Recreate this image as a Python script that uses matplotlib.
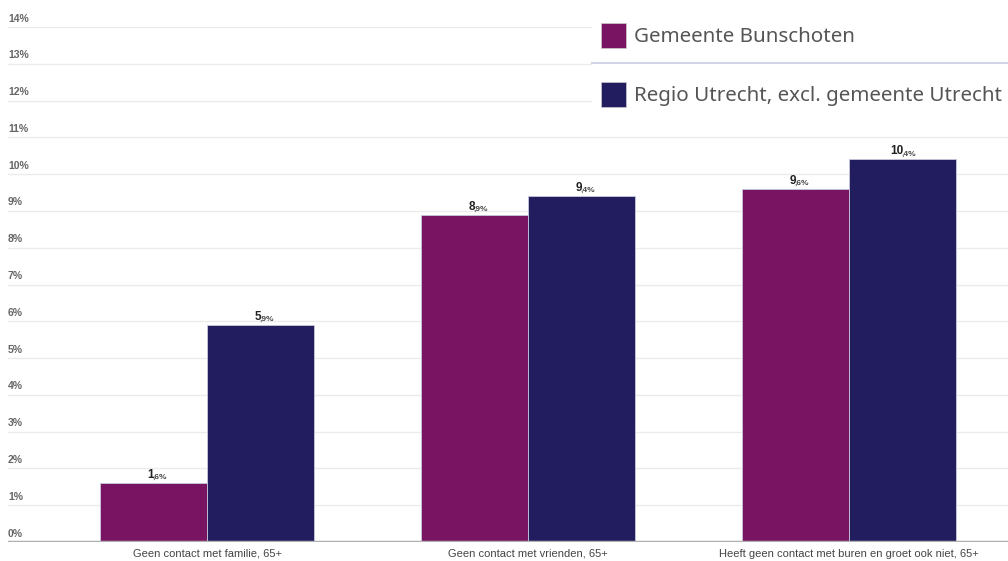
import matplotlib.pyplot as plt
import numpy as np
from matplotlib.patches import Rectangle
from matplotlib.lines import Line2D

# ~~~ DATA ~~~~~~~~~~~~~~~~~~~~~~~~~~~~~~~~~~~~~~~~~~~~~~~~~~~~~~~~~~~~~~~~~~~
categories = ['Geen contact met familie, 65+',
              'Geen contact met vrienden, 65+',
              'Heeft geen contact met buren en groet ook niet, 65+']
series_names = ['Gemeente Bunschoten', 'Regio Utrecht, excl. gemeente Utrecht']
bunschoten = [1.6, 8.9, 9.6]
regio = [5.9, 9.4, 10.4]
yticks = list(range(0, 15))

colors = ['#781462', '#221d5e']

# ~~~ PLOT ~~~~~~~~~~~~~~~~~~~~~~~~~~~~~~~~~~~~~~~~~~~~~~~~~~~~~~~~~~~~~~~~~~
W, H = 1008, 561
fig = plt.figure(figsize=(W / 100, H / 100), dpi=100)
ax = fig.add_axes([8 / W, 19 / H, 1040 / W, 515 / H])

x = np.arange(len(categories))
bw = 1 / 3
for i, (vals, col) in enumerate(zip([bunschoten, regio], colors)):
    xs = x + (i - 0.5) * bw
    ax.bar(xs, vals, width=bw, color=col, edgecolor='#c8c8dc', linewidth=0.6,
           zorder=3)
    for xi, v in zip(xs, vals):
        whole, dec = f'{v:.1f}'.split('.')
        ax.annotate(whole, (xi, v), xytext=(0.5, 1.5),
                    textcoords='offset points', ha='right', va='bottom',
                    fontsize=8.5, fontweight='bold', color='#222222',
                    family='Liberation Sans')
        ax.annotate(f',{dec}%', (xi, v), xytext=(-0.5, 1.5),
                    textcoords='offset points', ha='left', va='bottom',
                    fontsize=6, fontweight='bold', color='#444444',
                    family='Liberation Sans')

ax.set_xlim(-0.62, 2.62)
ax.set_ylim(0, 14)
ax.set_yticks(yticks)
ax.yaxis.grid(True, color='#ebebeb', linewidth=1, zorder=0)
ax.tick_params(axis='y', left=False, labelleft=False)
for t in yticks:
    ax.annotate(f'{t}%', (0.0, t), xycoords=ax.get_yaxis_transform(),
                xytext=(0, 2.5), textcoords='offset points',
                ha='left', va='bottom', fontsize=7.5, color='#666666',
                family='Liberation Sans', fontweight='bold')
ax.axhline(0, color='#b0b0b0', linewidth=2.5, zorder=4)

ax.set_xticks(x)
ax.set_xticklabels(categories, fontsize=8, color='#444444',
                   family='Liberation Sans')
ax.tick_params(axis='x', length=0, pad=5)
for s in ax.spines.values():
    s.set_visible(False)

# legend box
fig.patches.append(Rectangle((592 / W, 1 - 120 / H), 420 / W, 108 / H,
                             transform=fig.transFigure, facecolor='white',
                             edgecolor='none', zorder=5))
fig.lines.append(Line2D([592 / W, 1], [1 - 63 / H, 1 - 63 / H],
                        transform=fig.transFigure, color='#d4d4e8',
                        linewidth=1.5, zorder=6))
for k, (name, col) in enumerate(zip(series_names, colors)):
    top = 23 + k * 59
    fig.patches.append(Rectangle((601 / W, 1 - (top + 25) / H), 25 / W, 25 / H,
                                 transform=fig.transFigure, facecolor=col,
                                 edgecolor='#cccccc', linewidth=0.5, zorder=6))
    fig.text(634 / W, 1 - (top + 14) / H, name, ha='left', va='center',
             fontsize=14.8, color='#555555', family='Noto Sans', zorder=7)

fig.savefig('out.png', dpi=100)
